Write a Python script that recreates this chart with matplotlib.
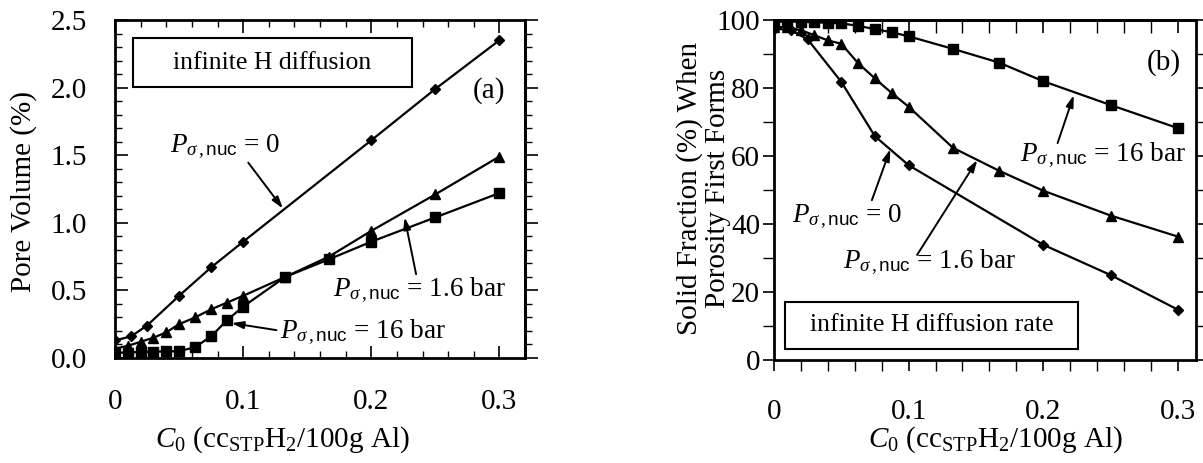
import matplotlib
matplotlib.use("Agg")
import matplotlib.pyplot as plt
from matplotlib.ticker import MultipleLocator, FormatStrFormatter, FixedLocator, FixedFormatter
from matplotlib.patches import Rectangle

plt.rcParams['font.family'] = ['Liberation Serif', 'DejaVu Serif']
plt.rcParams['mathtext.fontset'] = 'custom'
plt.rcParams['mathtext.rm'] = 'Liberation Serif'
plt.rcParams['mathtext.it'] = 'Liberation Serif:italic'
plt.rcParams['mathtext.bf'] = 'Liberation Serif:bold'
plt.rcParams['mathtext.sf'] = 'Liberation Sans'

# ---------------- data ----------------
# grids of hydrogen content C0
c0_coarse = [0, 0.0125, 0.025, 0.05, 0.075, 0.1, 0.2, 0.25, 0.3]
c0_fine = [0, 0.01, 0.02, 0.03, 0.04, 0.05, 0.0625, 0.075, 0.0875, 0.1,
           0.133, 0.167, 0.2, 0.25, 0.3]

# (a) pore volume (%)
pore_p0 = [0.13, 0.16, 0.24, 0.46, 0.67, 0.86, 1.61, 1.99, 2.35]
pore_p1_6 = [0.07, 0.09, 0.12, 0.15, 0.19, 0.25, 0.30, 0.36, 0.41, 0.46,
             0.60, 0.75, 0.94, 1.21, 1.49]
pore_p16 = [0.04, 0.04, 0.045, 0.045, 0.05, 0.05, 0.08, 0.16, 0.28, 0.38,
            0.60, 0.73, 0.86, 1.04, 1.22]

# (b) solid fraction (%) when porosity first forms
fs_p0 = [97.5, 97.0, 94.3, 81.8, 65.8, 57.3, 33.9, 25.0, 14.8]
fs_p1_6 = [98.0, 97.8, 97.0, 95.5, 94.0, 93.0, 87.3, 82.8, 78.5, 74.5,
           62.4, 55.7, 49.8, 42.5, 36.3]
fs_p16 = [99.5, 99.5, 99.5, 99.3, 99.2, 99.0, 98.3, 97.3, 96.4, 95.2,
          91.5, 87.5, 82.0, 75.0, 68.2]

x_ticks = [0, 0.1, 0.2, 0.3]
x_tick_labels = ['0', '0.1', '0.2', '0.3']

lbl_p0 = r'$P_{\sigma\,,\mathsf{nuc}}$ = 0'
lbl_p1_6 = r'$P_{\sigma\,,\mathsf{nuc}}$ = 1.6 bar'
lbl_p16 = r'$P_{\sigma\,,\mathsf{nuc}}$ = 16 bar'
xlabel = r'$C_0$ (cc$_{\mathrm{STP}}$H$_2$/100g Al)'

W, H = 1203, 463
fig = plt.figure(figsize=(W / 100, H / 100), dpi=100)

FS = 21
AFS = 19.5
LW = 1.6
arrow_kw = dict(arrowstyle='-|>,head_length=0.7,head_width=0.22', lw=1.4,
                color='black', shrinkA=0, shrinkB=0)

def px_axes(l, t, r, b):
    return fig.add_axes([l / W, 1 - b / H, (r - l) / W, (b - t) / H])

# ================= panel (a) =================
ax = px_axes(115, 20, 525, 358)
ax.plot(c0_coarse, pore_p0, '-', color='black', lw=LW, marker='D', ms=5.5)
ax.plot(c0_fine, pore_p1_6, '-', color='black', lw=LW, marker='^', ms=7.5)
ax.plot(c0_fine, pore_p16, '-', color='black', lw=LW, marker='s', ms=6.5)
ax.set_xlim(0, 0.32)
ax.set_ylim(0, 2.5)
ax.xaxis.set_major_locator(FixedLocator(x_ticks))
ax.xaxis.set_major_formatter(FixedFormatter(x_tick_labels))
ax.xaxis.set_minor_locator(MultipleLocator(0.02))
ax.yaxis.set_major_locator(MultipleLocator(0.5))
ax.yaxis.set_minor_locator(MultipleLocator(0.1))
ax.yaxis.set_major_formatter(FormatStrFormatter('%.1f'))
ax.tick_params(axis='x', which='both', direction='in', top=True, bottom=True,
               labelsize=FS, pad=22)
ax.tick_params(axis='y', which='both', direction='in', left=True, right=False,
               labelsize=FS, pad=20)
ax.tick_params(which='major', length=9, width=1.2)
ax.tick_params(which='minor', length=5, width=1.0)
for s in ax.spines.values():
    s.set_linewidth(2.0)
sec = ax.secondary_yaxis('right')
sec.yaxis.set_major_locator(MultipleLocator(0.5))
sec.yaxis.set_minor_locator(MultipleLocator(0.1))
sec.tick_params(which='both', direction='out', labelright=False)
sec.tick_params(which='major', length=9, width=1.2)
sec.tick_params(which='minor', length=5, width=1.0)
sec.spines['right'].set_linewidth(2.0)

ax.add_patch(Rectangle((0.014, 2.006), 0.2175, 0.361, fill=False, lw=1.5,
                       ec='black'))
ax.text(0.1228, 2.18, 'infinite H diffusion', ha='center', va='center',
        fontsize=18.5)
ax.text(0.292, 1.98, '(a)', ha='center', va='center', fontsize=FS)

ax.text(0.043, 1.56, lbl_p0, ha='left', va='center', fontsize=AFS)
ax.annotate('', xy=(0.131, 1.106), xytext=(0.104, 1.445), arrowprops=arrow_kw)
ax.text(0.17, 0.50, lbl_p1_6, ha='left', va='center', fontsize=AFS)
ax.annotate('', xy=(0.226, 1.04), xytext=(0.235, 0.62), arrowprops=arrow_kw)
ax.text(0.1286, 0.19, lbl_p16, ha='left', va='center', fontsize=AFS)
ax.annotate('', xy=(0.091, 0.258), xytext=(0.126, 0.206), arrowprops=arrow_kw)

fig.text(24 / W, 1 - 192 / H, 'Pore Volume (%)', rotation=90, ha='center',
         va='center', fontsize=FS)
fig.text(282 / W, 1 - 440 / H, xlabel, ha='center', va='center', fontsize=FS)

# ================= panel (b) =================
bx = px_axes(774, 20, 1196, 360)
bx.plot(c0_coarse, fs_p0, '-', color='black', lw=LW, marker='D', ms=5.5)
bx.plot(c0_fine, fs_p1_6, '-', color='black', lw=LW, marker='^', ms=7.5)
bx.plot(c0_fine, fs_p16, '-', color='black', lw=LW, marker='s', ms=6.5)
bx.set_xlim(0, 0.3135)
bx.set_ylim(0, 100)
bx.xaxis.set_major_locator(FixedLocator(x_ticks))
bx.xaxis.set_major_formatter(FixedFormatter(x_tick_labels))
bx.xaxis.set_minor_locator(MultipleLocator(0.02))
bx.yaxis.set_major_locator(MultipleLocator(20))
bx.yaxis.set_minor_locator(MultipleLocator(10))
bx.tick_params(axis='x', which='both', direction='out', top=False, bottom=True,
               labelsize=FS, pad=20)
bx.tick_params(axis='y', which='both', direction='out', left=True, right=True,
               labelsize=FS, pad=2)
bx.tick_params(which='major', length=8, width=1.2)
bx.tick_params(which='minor', length=8, width=1.0)
for s in bx.spines.values():
    s.set_linewidth(2.0)
secx = bx.secondary_xaxis('top')
secx.xaxis.set_major_locator(FixedLocator(x_ticks))
secx.xaxis.set_minor_locator(MultipleLocator(0.02))
secx.tick_params(which='both', direction='in', labeltop=False)
secx.tick_params(which='major', length=9, width=1.2)
secx.tick_params(which='minor', length=9, width=1.0)
secx.spines['top'].set_linewidth(2.0)

bx.add_patch(Rectangle((0.0082, 3.1), 0.2174, 14.0, fill=False, lw=1.5,
                       ec='black'))
bx.text(0.117, 10.3, 'infinite H diffusion rate', ha='center', va='center',
        fontsize=18.5)
bx.text(0.2896, 87.4, '(b)', ha='center', va='center', fontsize=FS)

bx.text(0.183, 60.3, lbl_p16, ha='left', va='center', fontsize=AFS)
bx.annotate('', xy=(0.2227, 77.9), xytext=(0.2107, 63.8), arrowprops=arrow_kw)
bx.text(0.0134, 42, lbl_p0, ha='left', va='center', fontsize=AFS)
bx.annotate('', xy=(0.0864, 62.0), xytext=(0.0727, 47.0), arrowprops=arrow_kw)
bx.text(0.0514, 28.8, lbl_p1_6, ha='left', va='center', fontsize=AFS)
bx.annotate('', xy=(0.151, 58.8), xytext=(0.1063, 30.9), arrowprops=arrow_kw)

fig.text(704 / W, 1 - 188 / H, 'Solid Fraction (%) When\nPorosity First Forms',
         rotation=90, ha='center', va='center', fontsize=FS,
         multialignment='center', linespacing=1.1)
fig.text(995 / W, 1 - 440 / H, xlabel, ha='center', va='center', fontsize=FS)

fig.savefig('out.png', dpi=100)
